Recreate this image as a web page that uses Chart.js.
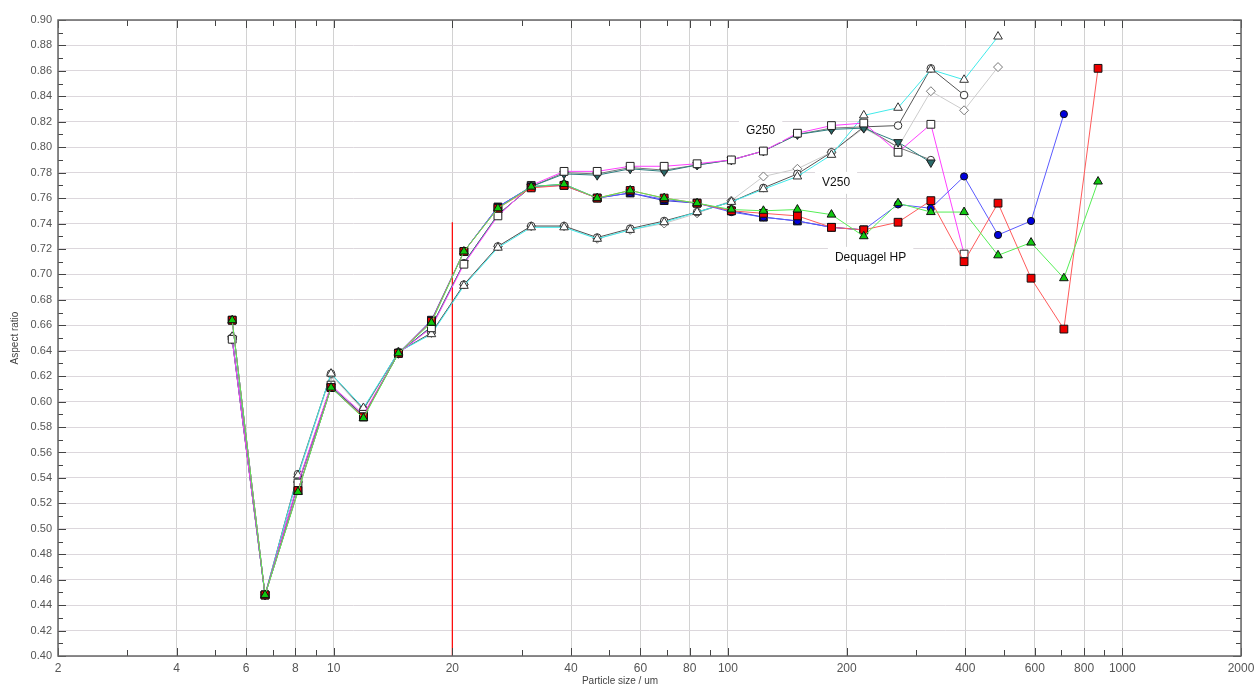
<!DOCTYPE html>
<html>
<head>
<meta charset="utf-8">
<title>Aspect ratio vs particle size</title>
<script src="https://cdn.jsdelivr.net/npm/chart.js@4.4.1/dist/chart.umd.min.js"></script>
<style>
  html, body { margin: 0; padding: 0; background: #fff; }
  #wrap { width: 1255px; height: 687px; position: relative; }
</style>
</head>
<body>
<div id="wrap"><canvas id="aspectChart"></canvas></div>
<script>
// particle size classes (um)
const sizes = [5.53, 6.7, 8.12, 9.85, 11.9, 14.6, 17.7, 21.4, 26.1, 31.7, 38.4, 46.6, 56.5, 68.9, 83.5,
               102, 123, 150, 183, 221, 270, 327, 397, 484, 587, 711, 868];

// Dequagel HP runs
const dqRed   = [0.664, 0.448, 0.530, 0.611, 0.588, 0.638, 0.663, 0.718, 0.752, 0.768, 0.770, 0.760, 0.766, 0.760, 0.756,
                 0.750, 0.748, 0.746, 0.737, 0.735, 0.741, 0.758, 0.710, 0.756, 0.697, 0.657, 0.862];
const dqBlue  = [0.664, 0.448, 0.530, 0.611, 0.588, 0.638, 0.663, 0.718, 0.753, 0.769, 0.771, 0.760, 0.764, 0.759, 0.756,
                 0.749, 0.745, 0.742, 0.737, 0.735, 0.755, 0.752, 0.777, 0.731, 0.742, 0.826, null];
const dqGreen = [0.664, 0.448, 0.529, 0.611, 0.587, 0.638, 0.662, 0.718, 0.752, 0.769, 0.771, 0.760, 0.766, 0.760, 0.756,
                 0.751, 0.750, 0.751, 0.747, 0.730, 0.756, 0.749, 0.749, 0.715, 0.725, 0.697, 0.773];
const dqNavy  = [0.664, 0.448, 0.530, 0.611, 0.588, 0.638, 0.664, 0.718, 0.753, 0.769, 0.770, 0.760, 0.764, 0.758, 0.756,
                 0.750, 0.745, 0.742, 0.737, 0.735];

// G250 runs
const g250Magenta = [0.649, 0.448, 0.536, 0.613, 0.590, 0.638, 0.658, 0.708, 0.746, 0.770, 0.781, 0.781, 0.785, 0.785, 0.787,
                     0.790, 0.797, 0.811, 0.817, 0.819, 0.796, 0.818, 0.716];
const g250Teal    = [0.649, 0.448, 0.535, 0.612, 0.589, 0.638, 0.659, 0.709, 0.747, 0.769, 0.779, 0.778, 0.783, 0.781, 0.786,
                     0.790, 0.797, 0.810, 0.814, 0.815, 0.804, 0.788];
const g250Gray    = [0.649, 0.448, 0.535, 0.612, 0.589, 0.638, 0.659, 0.709, 0.747, 0.769, 0.780, 0.779, 0.784, 0.782, 0.786,
                     0.790, 0.797, 0.810, 0.815, 0.816, 0.800, 0.790];

// V250 runs
const v250Cyan  = [0.651, 0.448, 0.542, 0.622, 0.595, 0.639, 0.653, 0.691, 0.721, 0.737, 0.737, 0.728, 0.735, 0.741, 0.749,
                   0.757, 0.767, 0.777, 0.794, 0.825, 0.831, 0.861, 0.853, 0.887];
const v250Dark  = [0.650, 0.448, 0.543, 0.622, 0.594, 0.639, 0.654, 0.692, 0.722, 0.738, 0.738, 0.729, 0.736, 0.742, 0.749,
                   0.757, 0.768, 0.779, 0.796, 0.816, 0.817, 0.862, 0.841];
const v250Light = [0.651, 0.448, 0.541, 0.621, 0.593, 0.639, 0.654, 0.692, 0.722, 0.738, 0.738, 0.728, 0.735, 0.740, 0.748,
                   0.758, 0.777, 0.783, 0.796, 0.815, 0.800, 0.844, 0.829, 0.863];

// 20 um cut-off marker
const cutoffX = [20, 20];
const cutoffY = [0.741, 0.40];

// axis ticks
const xTickValues = [2, 3, 4, 5, 6, 7, 8, 9, 10, 20, 30, 40, 50, 60, 70, 80, 90, 100,
                     200, 300, 400, 500, 600, 700, 800, 900, 1000, 2000];
const xTickLabels = [2, 4, 6, 8, 10, 20, 40, 60, 80, 100, 200, 400, 600, 800, 1000, 2000];

// group labels (data coordinates)
const groupNames = ["G250", "V250", "Dequagel HP"];
const groupNameX = [121, 188, 230];
const groupNameY = [0.8127, 0.772, 0.713];

function toPoints(values) {
    const pts = [];
    values.forEach((v, i) => { if (v !== null) pts.push({ x: sizes[i], y: v }); });
    return pts;
}

function series(label, values, lineColor, pointStyle, radius, fillColor, edgeColor, rotation) {
    return {
        label: label,
        data: toPoints(values),
        borderColor: lineColor,
        borderWidth: 1,
        pointStyle: pointStyle,
        pointRadius: radius,
        pointBackgroundColor: fillColor,
        pointBorderColor: edgeColor,
        pointBorderWidth: 1,
        pointRotation: rotation || 0,
        tension: 0,
        fill: false
    };
}

const datasets = [
    series("Dequagel HP 3", dqGreen, "#55ee55", "triangle", 5, "#10c810", "#111"),
    series("Dequagel HP 1", dqRed, "#ff5a5a", "rect", 5.5, "#ee0000", "#111"),
    series("Dequagel HP 2", dqBlue, "#5a5aff", "circle", 3.6, "#0000dd", "#111"),
    series("Dequagel HP 4", dqNavy, "#3a3ad0", "rect", 5.5, "#00008a", "#111"),
    series("G250 1", g250Magenta, "#ff40ff", "rect", 5.5, "#ffffff", "#222"),
    series("G250 2", g250Teal, "#2f7f7f", "triangle", 5, "#2a6a6a", "#222", 180),
    series("G250 3", g250Gray, "#777777", "circle", 3.6, "#ffffff", "#333"),
    series("V250 1", v250Cyan, "#40eaea", "triangle", 5, "#ffffff", "#333"),
    series("V250 2", v250Dark, "#555555", "circle", 3.8, "#ffffff", "#333"),
    series("V250 3", v250Light, "#cccccc", "rectRot", 4.5, "#ffffff", "#777"),
    {
        label: "20 um",
        data: cutoffX.map((x, i) => ({ x: x, y: cutoffY[i] })),
        borderColor: "#ff0000",
        borderWidth: 1.2,
        pointRadius: 0,
        fill: false
    }
];

// inward ticks, frame, group labels, x title
const framePlugin = {
    id: "frame",
    afterDatasetsDraw(chart) {
        const ctx = chart.ctx;
        const { left, right, top, bottom } = chart.chartArea;
        const xs = chart.scales.x, ys = chart.scales.y;
        ctx.save();
        ctx.strokeStyle = "#444";
        ctx.lineWidth = 1;
        ctx.beginPath();
        xTickValues.forEach(v => {
            const px = Math.round(xs.getPixelForValue(v)) + 0.5;
            const len = xTickLabels.includes(v) ? 8 : 6;
            ctx.moveTo(px, bottom); ctx.lineTo(px, bottom - len);
            ctx.moveTo(px, top); ctx.lineTo(px, top + len);
        });
        for (let k = 0; k <= 50; k++) {
            const py = Math.round(ys.getPixelForValue(0.40 + k * 0.01)) + 0.5;
            const len = k % 2 === 0 ? 8 : 5;
            ctx.moveTo(left, py); ctx.lineTo(left + len, py);
            ctx.moveTo(right, py); ctx.lineTo(right - len, py);
        }
        ctx.stroke();

        ctx.strokeStyle = "#666";
        ctx.lineWidth = 1.5;
        ctx.strokeRect(left, top, right - left, bottom - top);

        ctx.font = "12px Arial, 'Liberation Sans', sans-serif";
        ctx.textAlign = "center";
        ctx.textBaseline = "middle";
        groupNames.forEach((name, i) => {
            const cx = xs.getPixelForValue(groupNameX[i]);
            const cy = ys.getPixelForValue(groupNameY[i]);
            const w = ctx.measureText(name).width + 14;
            ctx.fillStyle = "#fff";
            ctx.fillRect(cx - w / 2, cy - 11, w, 22);
            ctx.fillStyle = "#111";
            ctx.fillText(name, cx, cy);
        });

        ctx.font = "10px 'Liberation Sans Narrow', Arial, sans-serif";
        ctx.fillStyle = "#444";
        ctx.fillText("Particle size / um", 620, chart.height - 6);
        ctx.restore();
    }
};

const ctx = document.getElementById("aspectChart").getContext("2d");
new Chart(ctx, {
    type: "line",
    data: { datasets: datasets },
    plugins: [framePlugin],
    options: {
        responsive: true,
        maintainAspectRatio: false,
        animation: false,
        events: [],
        layout: { padding: { top: 20, right: 14, left: 0, bottom: 0 } },
        plugins: {
            legend: { display: false },
            tooltip: { enabled: false }
        },
        scales: {
            x: {
                type: "logarithmic",
                min: 2,
                max: 2000,
                afterBuildTicks: (scale) => {
                    scale.ticks = xTickValues.map(v => ({ value: v }));
                },
                afterFit: (scale) => {
                    scale.height = 31;
                    scale.paddingLeft = 0;
                    scale.paddingRight = 0;
                },
                ticks: {
                    autoSkip: false,
                    maxRotation: 0,
                    minRotation: 0,
                    padding: 5,
                    color: "#555",
                    font: { family: "'Liberation Sans Narrow', Arial, sans-serif", size: 12 },
                    callback: (value) => xTickLabels.includes(value) ? String(value) : ""
                },
                grid: {
                    drawTicks: false,
                    color: (c) => (c.tick && xTickLabels.includes(c.tick.value)) ? "#d2d2d2" : "rgba(0,0,0,0)"
                },
                border: { display: false }
            },
            y: {
                type: "linear",
                min: 0.40,
                max: 0.90,
                afterFit: (scale) => { scale.width = 58; },
                ticks: {
                    stepSize: 0.02,
                    padding: 6,
                    color: "#555",
                    font: { family: "Arial, 'Liberation Sans', sans-serif", size: 11 },
                    callback: (value) => value.toFixed(2)
                },
                grid: { drawTicks: false, color: "#dcd7dc" },
                border: { display: false },
                title: {
                    display: true,
                    text: "Aspect ratio",
                    color: "#444",
                    font: { family: "Arial, 'Liberation Sans', sans-serif", size: 10 },
                    padding: { top: 9, bottom: 0 }
                }
            }
        }
    }
});
</script>
</body>
</html>
